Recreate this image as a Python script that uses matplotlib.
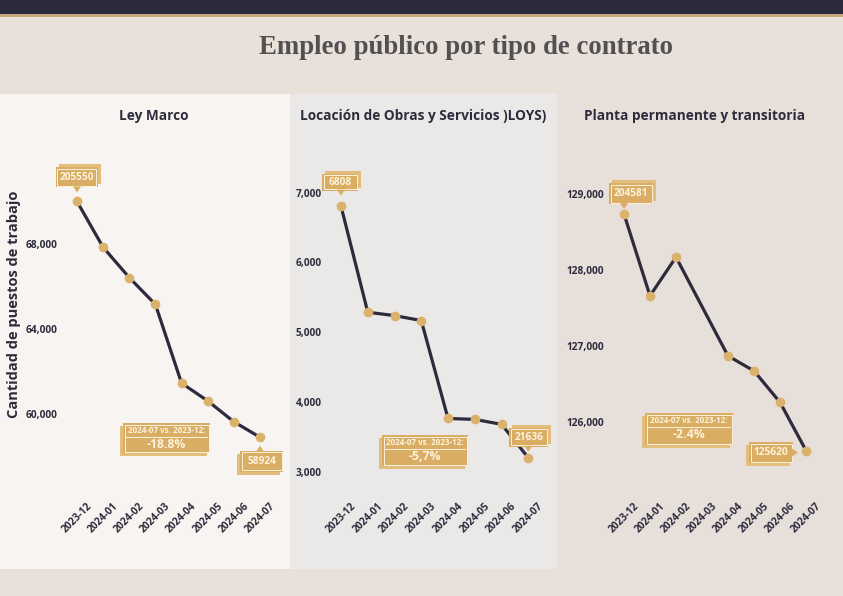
import matplotlib
matplotlib.use('Agg')
import matplotlib.pyplot as plt
from matplotlib.patches import Rectangle, Polygon
from matplotlib.lines import Line2D
from matplotlib.transforms import Affine2D
import numpy as np

# ---------------- data ----------------
months = ["2023-12", "2024-01", "2024-02", "2024-03", "2024-04", "2024-05", "2024-06", "2024-07"]
ley_marco = [69980, 67830, 66410, 65150, 61460, 60630, 59650, 58924]
loys = [6808, 5286, 5238, 5167, 3763, 3750, 3679, 3200]
planta = [128740, 127661, 128171, None, 126868, 126670, 126256, 125620]
series = [ley_marco, loys, planta]
titles = ["Ley Marco", "Locación de Obras y Servicios )LOYS)", "Planta permanente y transitoria"]
first_labels = ["205550", "6808", "204581"]
last_labels = ["58924", "21636", "125620"]
pct_labels = ["-18.8%", "-5,7%", "-2.4%"]
pct_header = "2024-07 vs. 2023-12:"
yticks = [[60000, 64000, 68000], [3000, 4000, 5000, 6000, 7000], [126000, 127000, 128000, 129000]]
main_title = "Empleo público por tipo de contrato"
ylabel = "Cantidad de puestos de trabajo"

# ---------------- style ----------------
W, H = 843, 596
BG = '#e7e1da'
DARK = '#2e2a3d'
TAN = '#c9a57d'
PANEL_BG = ['#f7f4f1', '#ebe9e7', '#e6dfda']
GOLD = '#d9ad63'
GOLD_SH = '#e2bd7c'
CREAM = '#fdf2dc'
MARK = '#dbb26c'
TXT = '#2e2b3c'
SANS = ['Open Sans', 'DejaVu Sans']
plt.rcParams['font.family'] = SANS

fig = plt.figure(figsize=(W / 100, H / 100), dpi=100, facecolor=BG)
px = Affine2D().scale(1, -1).translate(0, H)  # top-left pixel coords -> display


def rect(x0, y0, x1, y1, color, z=0, **kw):
    fig.add_artist(Rectangle((x0, y0), x1 - x0, y1 - y0, transform=px,
                             facecolor=color, edgecolor=kw.pop('ec', 'none'), zorder=z, **kw))


# header bars
rect(0, 0, W, 14, DARK, z=-1)
rect(0, 14, W, 17, TAN, z=-1)
fig.text(466 / W, 1 - 47 / H, main_title, ha='center', va='center',
         family=['Liberation Serif', 'DejaVu Serif'], weight='bold', fontsize=19.3, color='#545052')

# panel backgrounds
panels_x = [(0, 290), (290, 557), (558, W)]
for (x0, x1), c in zip(panels_x, PANEL_BG):
    rect(x0, 94, x1, 569, c, z=-1)

# axes layout: (left, right, top, bottom) px, x calib (px idx0, px idx7), y calib (v_a, p_a, v_b, p_b)
layout = [
    dict(ax=(62, 284, 150, 495), xc=(77, 260), yc=(68000, 243.7, 60000, 414.3)),
    dict(ax=(326, 553, 150, 495), xc=(341, 528.3), yc=(7000, 192.7, 3000, 471.7)),
    dict(ax=(608, 838, 150, 495), xc=(624, 806), yc=(129000, 194.3, 126000, 421.7)),
]
title_cx = [154, 423, 695]

# annotation geometry (pixel offsets from data point, box size, pointer, shadow)
first_ann = [dict(dx=-0.5, dy=-24, w=42, h=20, ptr='down', sh=(3, -3)),
             dict(dx=-1, dy=-24, w=36, h=17, ptr='down', sh=(3, -3)),
             dict(dx=7, dy=-20.5, w=44, h=21, ptr='down', sh=(3, -3))]
last_ann = [dict(dx=1.5, dy=24, w=43, h=21, ptr='up', sh=(-3, 3)),
            dict(dx=0.5, dy=-20.5, w=39, h=19, ptr='down', sh=(3, -3)),
            dict(dx=-35, dy=2, w=44, h=21, ptr='right', sh=(-3, 3))]
pct_boxes = [(166.5, 438, 87, 30), (425, 450.5, 86, 31), (689, 429, 88, 32)]


def gold_box(cx, cy, w, h, sh, z=10):
    rect(cx - w / 2 + sh[0], cy - h / 2 + sh[1], cx + w / 2 + sh[0], cy + h / 2 + sh[1], GOLD_SH, z=z)
    rect(cx - w / 2, cy - h / 2, cx + w / 2, cy + h / 2, GOLD, z=z + 0.1)
    rect(cx - w / 2 + 1.5, cy - h / 2 + 1.5, cx + w / 2 - 1.5, cy + h / 2 - 1.5, 'none', z=z + 0.2,
         ec=CREAM, linewidth=0.7)


def pointer(cx, cy, w, h, kind, tipx, tipy, z=10.3):
    if kind == 'down':
        pts = [(tipx - 4, cy + h / 2 - 1), (tipx + 4, cy + h / 2 - 1), (tipx, cy + h / 2 + 5)]
    elif kind == 'up':
        pts = [(tipx - 4, cy - h / 2 + 1), (tipx + 4, cy - h / 2 + 1), (tipx, cy - h / 2 - 5)]
    else:
        pts = [(cx + w / 2 - 1, cy - 4), (cx + w / 2 - 1, cy + 4), (cx + w / 2 + 5, cy)]
    fig.add_artist(Polygon(pts, closed=True, transform=px, facecolor=GOLD, edgecolor='none', zorder=z))


def to_px(ax, x, y):
    dx, dy = ax.transData.transform((x, y))
    return dx, H - dy


for i, (vals, lay) in enumerate(zip(series, layout)):
    l, r, t, b = lay['ax']
    ax = fig.add_axes([l / W, 1 - b / H, (r - l) / W, (b - t) / H])
    ax.set_zorder(1)
    ax.set_facecolor('none')
    p0, p7 = lay['xc']
    s = (p7 - p0) / 7
    ax.set_xlim((l - p0) / s, (r - p0) / s)
    va, pa, vb, pb = lay['yc']
    yv = lambda p: va + (p - pa) / (pb - pa) * (vb - va)
    ax.set_ylim(yv(b), yv(t))
    for sp in ax.spines.values():
        sp.set_visible(False)

    y = np.array([np.nan if v is None else v for v in vals], dtype=float)
    x = np.arange(len(months))
    ok = ~np.isnan(y)
    ax.plot(x[ok], y[ok], color=DARK, lw=2.3, zorder=3, solid_joinstyle='round')
    ax.plot(x[ok], y[ok], 'o', color=MARK, ms=7, mec='none', zorder=4)

    ax.set_xticks(x)
    ax.set_xticklabels(months, rotation=45, ha='center', fontsize=7.3, weight='bold', color=TXT)
    ax.set_yticks(yticks[i])
    ax.set_yticklabels([f"{v:,}" for v in yticks[i]], fontsize=7.3, weight='bold', color=TXT)
    ax.tick_params(length=0, pad=3)
    ax.tick_params(axis='x', pad=4)
    ax.grid(False)

    fig.text(title_cx[i] / W, 1 - 116 / H, titles[i], ha='center', va='center',
             fontsize=9.8, weight='bold', color=TXT)

    # first / last value labels
    idx_first = int(np.where(ok)[0][0])
    idx_last = int(np.where(ok)[0][-1])
    for idx, lab, g in [(idx_first, first_labels[i], first_ann[i]), (idx_last, last_labels[i], last_ann[i])]:
        qx, qy = to_px(ax, idx, y[idx])
        cx, cy = qx + g['dx'], qy + g['dy']
        gold_box(cx, cy, g['w'], g['h'], g['sh'])
        pointer(cx, cy, g['w'], g['h'], g['ptr'], qx, qy)
        fig.text(cx / W, 1 - cy / H, lab, ha='center', va='center', fontsize=7.3,
                 weight='bold', color=CREAM, zorder=12)

    # percent change box
    cx, cy, w, h = pct_boxes[i]
    gold_box(cx, cy, w, h, (-3, 3))
    fig.text(cx / W, 1 - (cy - h / 2 + 7.5) / H, pct_header, ha='center', va='center', fontsize=5.8,
             weight='bold', color=CREAM, zorder=12)
    fig.add_artist(Line2D([cx - w / 2 + 3, cx + w / 2 - 3], [cy - h / 2 + 14, cy - h / 2 + 14],
                          transform=px, color=CREAM, lw=0.7, zorder=12))
    fig.text(cx / W, 1 - (cy - h / 2 + 21.5) / H, pct_labels[i], ha='center', va='center', fontsize=8.8,
             weight='bold', color=CREAM, zorder=12)

fig.text(14 / W, 1 - 304 / H, ylabel, rotation=90, ha='center', va='center',
         fontsize=10.5, weight='bold', color=TXT)

fig.savefig('out.png', dpi=100, facecolor=BG)
